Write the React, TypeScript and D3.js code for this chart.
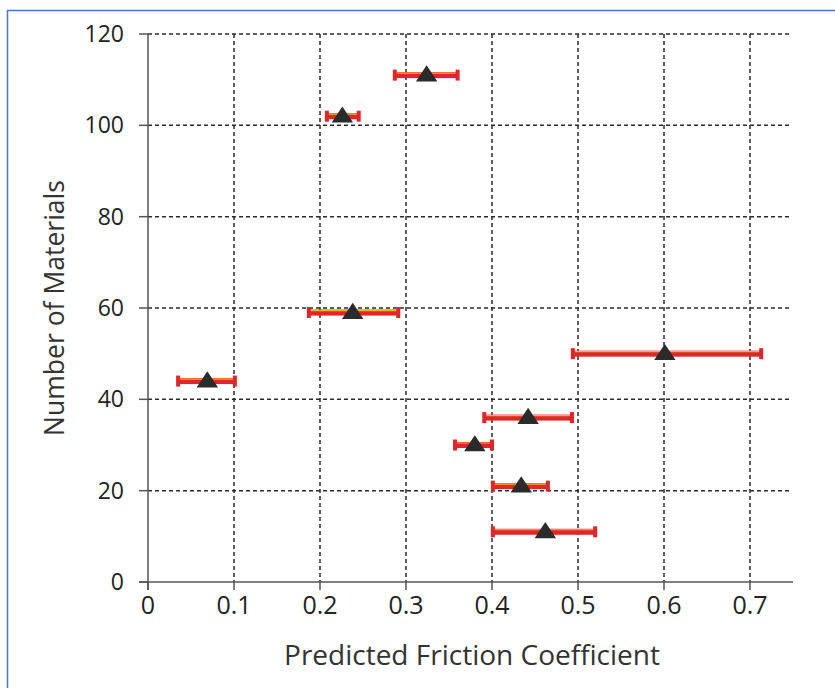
import React from "react";
import * as d3 from "d3";

const materials = [111, 102, 59, 50, 44, 36, 30, 21, 11];
const friction = [0.324, 0.226, 0.238, 0.601, 0.069, 0.442, 0.38, 0.434, 0.462];
const lower = [0.287, 0.208, 0.187, 0.494, 0.035, 0.391, 0.357, 0.401, 0.401];
const upper = [0.36, 0.245, 0.291, 0.713, 0.101, 0.493, 0.4, 0.465, 0.52];
const xTicks = [0, 0.1, 0.2, 0.3, 0.4, 0.5, 0.6, 0.7];
const yTicks = [0, 20, 40, 60, 80, 100, 120];

const W = 835, H = 688;
const L = 148, R = 792, T = 34, B = 582;

export default function App() {
  const x = d3.scaleLinear().domain([0, 0.75]).range([L, L + 860 * 0.75]);
  const y = d3.scaleLinear().domain([0, 120]).range([B, T]);
  const font = "'Open Sans', 'Liberation Sans', sans-serif";
  const tri = d3.symbol().type(d3.symbolTriangle).size(150)();
  return (
    <svg width={W} height={H} style={{ position: "absolute", left: 0, top: 0 }}>
      <rect x={0} y={0} width={W} height={H} fill="#fff" />
      <rect x={7.5} y={10.5} width={1000} height={1000} fill="none" stroke="#4a78b0" strokeWidth={1.5} />
      {yTicks.filter(v => v > 0).map(v => (
        <line key={"gy" + v} x1={L} x2={R} y1={y(v)} y2={y(v)} stroke="#2a2a2a" strokeWidth={1.5} strokeDasharray="4,3" />
      ))}
      {xTicks.filter(v => v > 0).map(v => (
        <line key={"gx" + v} x1={x(v)} x2={x(v)} y1={T} y2={B} stroke="#2a2a2a" strokeWidth={1.5} strokeDasharray="4,3" />
      ))}
      <line x1={L} x2={L} y1={T} y2={B + 8} stroke="#555" strokeWidth={1.5} />
      <line x1={L - 9} x2={R + 1} y1={B} y2={B} stroke="#555" strokeWidth={1.5} />
      {yTicks.map(v => (
        <g key={"yt" + v}>
          <line x1={L - 9} x2={L} y1={y(v)} y2={y(v)} stroke="#555" strokeWidth={1.5} />
          <text x={L - 24} y={y(v)} dy="0.35em" textAnchor="end" fontFamily={font} fontSize={23} fill="#222">{v}</text>
        </g>
      ))}
      {xTicks.map(v => (
        <g key={"xt" + v}>
          <line x1={x(v)} x2={x(v)} y1={B} y2={B + 8} stroke="#555" strokeWidth={1.5} />
          <text x={x(v)} y={605} dy="0.35em" textAnchor="middle" fontFamily={font} fontSize={25} fill="#222">{v === 0 ? "0" : d3.format(".1f")(v)}</text>
        </g>
      ))}
      <text x={472} y={655} dy="0.35em" textAnchor="middle" fontFamily={font} fontSize={28} fill="#333">Predicted Friction Coefficient</text>
      <text transform={`translate(55,308) rotate(-90)`} dy="0.35em" textAnchor="middle" fontFamily={font} fontSize={26.5} fill="#333">Number of Materials</text>
      {materials.map((m, i) => (
        <g key={"p" + i}>
          <rect x={x(lower[i])} y={y(m) - 3} width={x(upper[i]) - x(lower[i])} height={6} fill="#e0262b" />
          <line x1={x(lower[i])} x2={x(upper[i])} y1={y(m) - 2} y2={y(m) - 2} stroke="#f5b02a" strokeWidth={1.2} />
          <rect x={x(lower[i]) - 2} y={y(m) - 5.5} width={4} height={11} fill="#e0262b" />
          <rect x={x(upper[i]) - 2} y={y(m) - 5.5} width={4} height={11} fill="#e0262b" />
          <path d={tri} transform={`translate(${x(friction[i])},${y(m) + 1}) scale(1.15,1)`} fill="#2b2b2b" />
        </g>
      ))}
    </svg>
  );
}
